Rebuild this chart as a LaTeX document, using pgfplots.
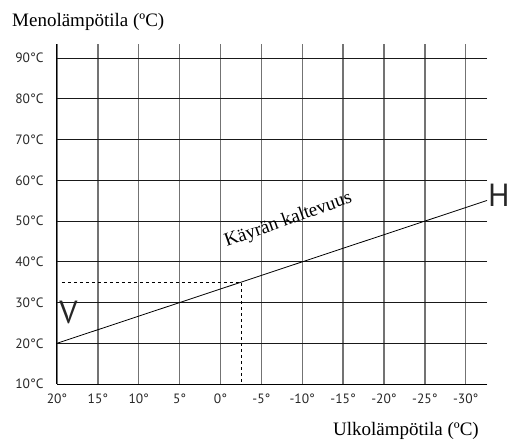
\documentclass[border=0pt]{standalone}
\usepackage{pgfplots}
\pgfplotsset{compat=1.18}
\usepackage{fontspec}
\setmainfont{Liberation Serif}
\newfontfamily\tickfont{PT Sans}
\begin{document}
\begin{tikzpicture}[x=1pt,y=1pt]
\path[use as bounding box] (0,0) rectangle (511,440);
\begin{axis}[
  at={(57pt,56pt)}, anchor=south west,
  scale only axis, width=430pt, height=340pt,
  x dir=reverse, xmin=-32.6, xmax=20, ymin=10, ymax=93.5,
  axis lines=left, axis line style={-, line width=1pt, black},
  xtick={20,15,10,5,0,-5,-10,-15,-20,-25,-30},
  xticklabels={20°,15°,10°,5°,0°,-5°,-10°,-15°,-20°,-25°,-30°},
  ytick={10,20,30,40,50,60,70,80,90},
  yticklabels={10°C,20°C,30°C,40°C,50°C,60°C,70°C,80°C,90°C},
  major tick length=0pt,
  tick label style={font=\tickfont\fontsize{13.5}{14}\selectfont, text=black!85},
  xticklabel style={yshift=-6pt},
  yticklabel style={xshift=-10pt},
  grid=major,
  x grid style={black!55, line width=1.3pt},
  y grid style={black!90, line width=1pt},
  clip=false,
]
\addplot[black, line width=0.8pt] coordinates {(20,20) (-32.6,55.07)};
\addplot[black, dashed, line width=0.7pt] coordinates {(19.4,35) (-2.5,35) (-2.5,10)};
\node[text=black!85] at (axis cs:18.6,27.5) {\tickfont\fontsize{32}{32}\selectfont V};
\node[anchor=west, inner sep=1pt, text=black!85] at (axis cs:-32.6,56.3) {\tickfont\fontsize{32}{32}\selectfont H};
\node[rotate=19.5] at (axis cs:-8.3,50.2) {\fontsize{19}{19}\selectfont Käyrän kaltevuus};
\end{axis}
\node[anchor=base west, inner sep=0pt] at (12,413.3) {\fontsize{19}{19}\selectfont Menolämpötila (ºC)};
\node[anchor=base east, inner sep=0pt] at (479,5) {\fontsize{19}{19}\selectfont Ulkolämpötila (ºC)};
\end{tikzpicture}
\end{document}
